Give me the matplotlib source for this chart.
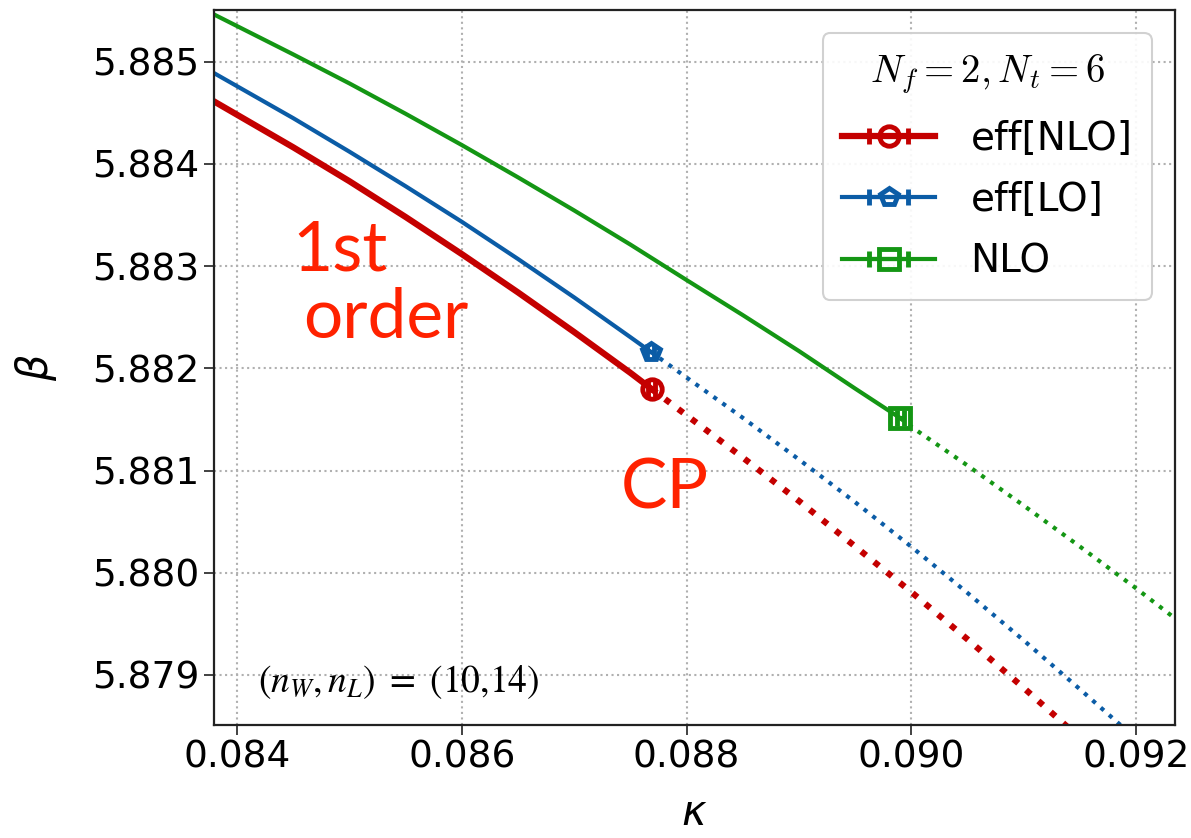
import numpy as np
import matplotlib
matplotlib.use("Agg")
import matplotlib.pyplot as plt

# first-order line (solid) up to the critical point, crossover (dotted) beyond
nlo_eff_k = [0.0838, 0.0845, 0.0850, 0.0855, 0.0860, 0.0865, 0.0870, 0.0875, 0.08769]
nlo_eff_b = [5.884609, 5.884163, 5.883831, 5.883481, 5.883118, 5.882743, 5.882355, 5.881956, 5.881797]
nlo_eff_k_dot = [0.08769, 0.0885, 0.0890, 0.0895, 0.0900, 0.0905, 0.0910, 0.09138, 0.0915]
nlo_eff_b_dot = [5.881797, 5.881127, 5.880702, 5.880257, 5.879811, 5.879348, 5.878873, 5.878500, 5.878380]

lo_eff_k = [0.0838, 0.0845, 0.0850, 0.0855, 0.0860, 0.0865, 0.0870, 0.0875, 0.08768]
lo_eff_b = [5.884886, 5.884448, 5.884120, 5.883782, 5.883434, 5.883070, 5.882694, 5.882305, 5.882163]
lo_eff_k_dot = [0.08768, 0.0880, 0.0885, 0.0890, 0.0895, 0.0900, 0.0905, 0.0910, 0.0915, 0.09185, 0.0919]
lo_eff_b_dot = [5.882163, 5.881910, 5.881516, 5.881108, 5.880690, 5.880254, 5.879802, 5.879338, 5.878860,
                5.878520, 5.878480]

nlo_k = [0.0838, 0.0845, 0.0850, 0.0855, 0.0860, 0.0865, 0.0870, 0.0875, 0.0880, 0.0885, 0.0890,
         0.0895, 0.0899]
nlo_b = [5.885460, 5.885072, 5.884788, 5.884491, 5.884185, 5.883869, 5.883545, 5.883211, 5.882864,
         5.882521, 5.882169, 5.881802, 5.881514]
nlo_k_dot = [0.0899, 0.0900, 0.0905, 0.0910, 0.0915, 0.0920, 0.09235]
nlo_b_dot = [5.881514, 5.881428, 5.881049, 5.880657, 5.880256, 5.879847, 5.879550]

cp_k = [0.08769, 0.08768, 0.0899]
cp_b = [5.881797, 5.882163, 5.881514]
labels = ['eff[NLO]', 'eff[LO]', 'NLO']
colors = ['#c40000', '#0b5ca6', '#149614']
markers = ['o', 'p', 's']
widths = [4.5, 3, 3]
sizes = [14, 13, 14]

fig = plt.figure(figsize=(11.91, 8.38), dpi=100)
ax = fig.add_axes([0.1797, 0.1348, 0.807, 0.8532])

ax.plot(nlo_eff_k, nlo_eff_b, color=colors[0], lw=widths[0])
ax.plot(nlo_eff_k_dot, nlo_eff_b_dot, color=colors[0], lw=widths[0], ls=':')
ax.plot(lo_eff_k, lo_eff_b, color=colors[1], lw=widths[1])
ax.plot(lo_eff_k_dot, lo_eff_b_dot, color=colors[1], lw=widths[1], ls=':')
ax.plot(nlo_k, nlo_b, color=colors[2], lw=widths[2])
ax.plot(nlo_k_dot, nlo_b_dot, color=colors[2], lw=widths[2], ls=':')

for i in range(3):
    ax.errorbar(cp_k[i], cp_b[i], xerr=0.00003, fmt=markers[i], color=colors[i],
                mfc='none', ms=sizes[i], mew=3.5, elinewidth=3, capsize=6, capthick=3.5,
                ls='-', lw=widths[i], label=labels[i], zorder=5)

ax.set_xlim(0.083795, 0.092347)
ax.set_ylim(5.87851, 5.885506)
ax.set_xticks([0.084, 0.086, 0.088, 0.090, 0.092])
ax.set_xticklabels(['0.084', '0.086', '0.088', '0.090', '0.092'])
ax.set_yticks([5.879, 5.880, 5.881, 5.882, 5.883, 5.884, 5.885])
ax.set_yticklabels(['5.879', '5.880', '5.881', '5.882', '5.883', '5.884', '5.885'])
ax.tick_params(labelsize=27, length=7, width=1.3, color='#333333')
ax.grid(True, ls=':', color='#b0b0b0', lw=1.5)
for s in ax.spines.values():
    s.set_linewidth(1.6)
    s.set_color('#222222')

ax.set_xlabel(r'$\kappa$', fontsize=30, labelpad=12)
ax.set_ylabel(r'$\beta$', fontsize=30, labelpad=24)

ann = dict(color='#ff2200', fontsize=50, family='Lato')
ax.text(0.08449, 5.882962, '1st', **ann)
ax.text(0.08459, 5.882296, 'order', **ann)
ax.text(0.087411, 5.880633, 'CP', **ann)

ax.text(0.046, 0.046, r'$(n_W, n_L)\ =\ (10{,}14)$', transform=ax.transAxes,
        fontsize=27, math_fontfamily='stix')

leg = ax.legend(loc='upper right', fontsize=28, title=r'$N_f=2, N_t=6$',
                title_fontsize=28, handlelength=2.4, borderpad=0.5,
                labelspacing=0.6, handletextpad=0.9, framealpha=0.9,
                bbox_to_anchor=(0.996, 0.995))
leg.get_title().set_math_fontfamily('cm')
leg.get_frame().set_edgecolor('#cccccc')
leg.get_frame().set_linewidth(1.5)

fig.savefig('out.png', dpi=100)
